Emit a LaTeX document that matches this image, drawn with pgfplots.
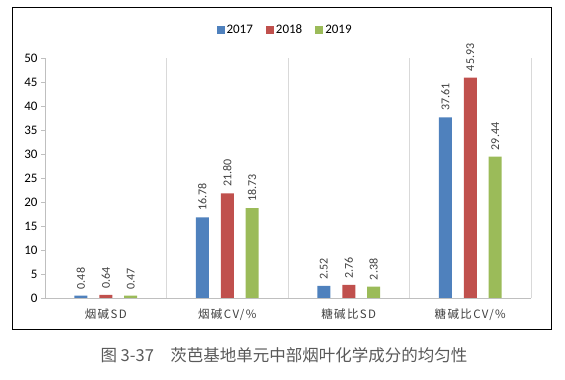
\documentclass[border=0pt]{standalone}
\usepackage{pgfplots}
\pgfplotsset{compat=1.18}
\usepackage{fontspec}
\setmainfont{Carlito}
\newfontfamily\cjk[LetterSpace=12]{Noto Sans CJK SC}
\newfontfamily\cjkcap{Noto Sans CJK SC}
\definecolor{cblue}{HTML}{4F81BD}
\definecolor{cred}{HTML}{C0504D}
\definecolor{cgreen}{HTML}{9BBB59}
\definecolor{gridc}{HTML}{D9D9D9}
\definecolor{axc}{HTML}{BFBFBF}
\definecolor{txt}{HTML}{404040}
\definecolor{capc}{HTML}{595959}
\begin{document}
\begin{tikzpicture}[x=1pt,y=1pt]
\useasboundingbox (0,0) rectangle (565,380);
\draw[line width=1pt, black] (12,50) rectangle (551,372);
\begin{axis}[
  at={(45pt,82pt)}, anchor=south west,
  scale only axis, width=486pt, height=240pt,
  xmin=-0.5, xmax=3.5, ymin=0, ymax=50,
  ytick distance=5,
  xtick={0,1,2,3},
  xticklabels={烟碱SD, 烟碱CV/\%, 糖碱比SD, 糖碱比CV/\%},
  xticklabel style={font=\cjk\fontsize{11.5}{13}\selectfont, text=txt, yshift=-3pt},
  yticklabel style={font=\fontsize{13}{15}\selectfont, text=black},
  /pgf/number format/assume math mode=true,
  minor xtick={0.5,1.5,2.5,3.5},
  xminorgrids=true,
  minor grid style={gridc, line width=0.8pt},
  axis x line*=bottom, axis y line*=left,
  axis line style={axc, line width=0.8pt, -},
  x tick style={draw=none},
  minor x tick style={draw=none},
  y tick style={axc, line width=0.8pt},
  tick align=outside, major tick length=4pt,
  ybar, bar width=0.107,
  nodes near coords,
  every node near coord/.append style={rotate=90, anchor=west, font=\fontsize{12}{14}\selectfont, text=txt, xshift=3pt,
    /pgf/number format/.cd, fixed, fixed zerofill, precision=2},
  legend style={at={(0.494,1.117)}, anchor=center, draw=none, legend columns=3,
    font=\fontsize{13}{15}\selectfont, /tikz/every even column/.append style={column sep=11pt},
    /tikz/every odd column/.append style={column sep=0pt}},
  legend image code/.code={\fill[#1] (0pt,-4pt) rectangle (8pt,4pt);},
]
\addplot[fill=cblue, draw=none, bar shift=-0.205] coordinates {(0,0.48) (1,16.78) (2,2.52) (3,37.61)};
\addplot[fill=cred, draw=none, bar shift=0] coordinates {(0,0.64) (1,21.80) (2,2.76) (3,45.93)};
\addplot[fill=cgreen, draw=none, bar shift=0.205] coordinates {(0,0.47) (1,18.73) (2,2.38) (3,29.44)};
\legend{2017,2018,2019}
\end{axis}
\node[font=\cjkcap\fontsize{16.5}{19}\selectfont, text=capc] at (284,25) {图 3-37\quad 茨芭基地单元中部烟叶化学成分的均匀性};
\end{tikzpicture}
\end{document}
